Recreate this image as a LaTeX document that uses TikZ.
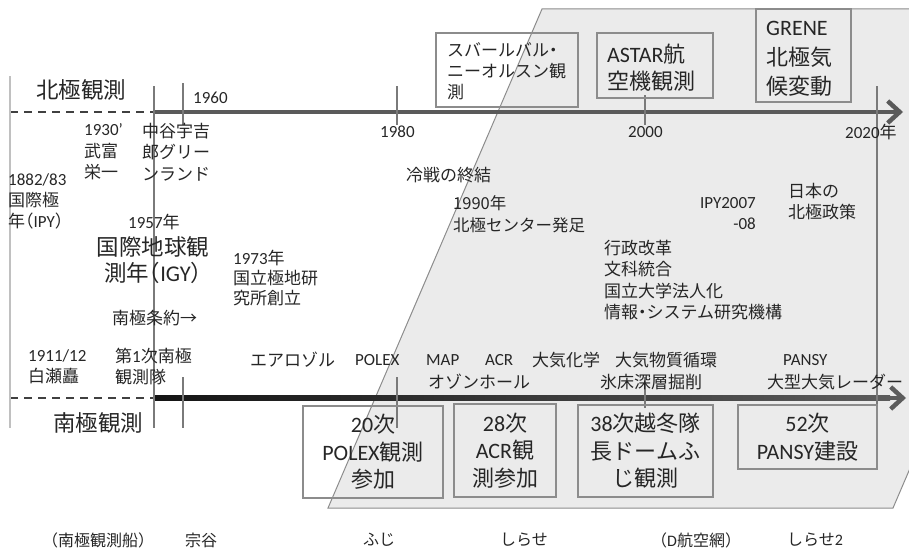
\documentclass[tikz,border=0pt]{standalone}
\usepackage{fontspec}
\setmainfont{Noto Sans CJK JP}[RawFeature=+halt]
\newfontfamily\la{Carlito}
\usetikzlibrary{arrows.meta}
\definecolor{shapefill}{HTML}{EBEBEB}
\definecolor{shapeline}{HTML}{8C8C8C}
\definecolor{axistop}{HTML}{5A5A5A}
\definecolor{dashc}{HTML}{404040}
\definecolor{lgray}{HTML}{C0C0C0}
\definecolor{tickc}{HTML}{7A7A7A}
\definecolor{boxline}{HTML}{8C8C8C}
\definecolor{textc}{HTML}{262626}
\begin{document}
\begin{tikzpicture}[x=1pt,y=-1pt,
  lbl/.style={inner sep=0pt, anchor=west, align=left, text=textc, font=\fontsize{17}{21}\selectfont},
  big/.style={lbl, font=\fontsize{22.5}{26}\selectfont},
  boxtxt/.style={inner sep=0pt, align=center, text=textc, font=\fontsize{22}{27.5}\selectfont},
  foot/.style={lbl, font=\fontsize{16}{20}\selectfont},
  framebox/.style={draw=boxline, line width=1.3pt, inner sep=0pt},
  tickl/.style={draw=tickc, line width=2pt},
  axisl/.style={line width=4.5pt, draw=axistop},
  dashl/.style={draw=dashc, line width=2.2pt, dash pattern=on 8pt off 6pt},
  barb/.style={-{Straight Barb[length=12pt,width=22pt]}},
]
\useasboundingbox (0,0) rectangle (909,551);
% grey parallelogram
\begin{scope}
\clip (0,0) rectangle (909,551);
\filldraw[fill=shapefill, draw=shapeline, line width=1pt] (542,9) -- (1107,9) -- (893,508) -- (328,508) -- cycle;
\end{scope}

% north axis
\coordinate (nS) at (10,112);
\coordinate (nM) at (154,112);
\coordinate (nE) at (903,112);
\draw[dashl] (nS) -- (nM);
\draw[axisl, barb] (nM) -- (nE);

% south axis
\coordinate (sS) at (10,398);
\coordinate (sM) at (154,398);
\coordinate (sA) at (886,398);
\coordinate (sE) at (906,398);
\draw[dashl] (sS) -- (sM);
\shade[left color=black!92, right color=black!64] (154,395.75) rectangle (890,400.25);
\draw[line width=4.5pt, draw=black!64, barb] (sA) -- (sE);

% vertical lines and ticks
\draw[line width=2.5pt, draw=lgray] (10,76) -- (10,428);
\draw[tickl] (154,86) -- (154,428);
\draw[tickl] (183,83) -- (183,125);
\draw[tickl] (183,377) -- (183,428);
\draw[tickl] (397,86) -- (397,125);
\draw[tickl] (397,377) -- (397,428);
\draw[tickl] (645,95) -- (645,125);
\draw[tickl] (645,377) -- (645,408);
\draw[tickl] (877,86) -- (877,428);

% boxes
\node[framebox, minimum width=142pt, minimum height=74pt] (bSval) at (507,70) {};
\node[framebox, minimum width=116pt, minimum height=65pt] (bAstar) at (655,65.5) {};
\node[framebox, minimum width=95pt, minimum height=93pt] (bGrene) at (803.5,55.5) {};
\node[framebox, minimum width=140pt, minimum height=92pt] (bPolex) at (373,452) {};
\node[framebox, minimum width=102pt, minimum height=93pt] (bAcr) at (505,450.5) {};
\node[framebox, minimum width=135pt, minimum height=92pt] (bDome) at (645.5,451) {};
\node[framebox, minimum width=139pt, minimum height=64pt] (bPansy) at (807.5,437) {};

% box texts
\node[lbl] (tSval) at (447,71) {スバールバル・\\ニーオルスン観\\測};
\node[lbl, font=\fontsize{22}{27}\selectfont] (tAstar) at (607,67.5) {{\la ASTAR}航\\空機観測};
\node[lbl, font=\fontsize{22}{29.5}\selectfont] (tGrene) at (766,59) {{\la GRENE}\\北極気\\候変動};
\node[boxtxt] (tPolex) at (bPolex.center) {{\la 20}次\\{\la POLEX}観測\\参加};
\node[boxtxt] (tAcr) at (bAcr.center) {{\la 28}次\\{\la ACR}観\\測参加};
\node[boxtxt] (tDome) at (bDome.center) {{\la 38}次越冬隊\\長ドームふ\\じ観測};
\node[boxtxt] (tPansy) at (bPansy.center) {{\la 52}次\\{\la PANSY}建設};

% headings
\node[big] (hN) at (36,90) {北極観測};
\node[big] (hS) at (53,423) {南極観測};

% years on axis
\node[lbl] (y1960) at (193,98) {{\la 1960}};
\node[lbl] (y1980) at (380,132) {{\la 1980}};
\node[lbl] (y2000) at (628,132) {{\la 2000}};
\node[lbl] (y2020) at (845,132) {{\la 2020}年};

% arctic side texts
\node[lbl, font=\fontsize{17}{21.5}\selectfont] (tTake) at (84,152) {{\la 1930’}\\武富\\栄一};
\node[lbl, font=\fontsize{17}{21.5}\selectfont] (tNaka) at (142,152) {中谷宇吉\\郎グリー\\ンランド};
\node[lbl] (tIPY) at (8,201) {{\la 1882/83}\\国際極\\年（{\la IPY}）};
\node[lbl] (t1957) at (128,222) {{\la 1957}年};
\node[big, anchor=center, align=center] (tIGY) at (153,260) {国際地球観\\測年（{\la IGY}）};
\node[lbl, font=\fontsize{17}{20}\selectfont] (tNIPR) at (233,278) {{\la 1973}年\\国立極地研\\究所創立};
\node[lbl] (tTreaty) at (112,318) {南極条約→};
\node[lbl] (tCold) at (406,175) {冷戦の終結};
\node[lbl, font=\fontsize{16.5}{22}\selectfont] (tCenter) at (453,214) {1990年\\北極センター発足};
\node[lbl, anchor=east, align=right] (tIPY07) at (756,214) {{\la IPY2007}\\{\la -08}};
\node[lbl] (tPolicy) at (788,202) {日本の\\北極政策};
\node[lbl, font=\fontsize{17}{21.3}\selectfont] (tReform) at (604,280) {行政改革\\文科統合\\国立大学法人化\\情報・システム研究機構};

% antarctic side texts
\node[lbl] (tShirase) at (28,367) {{\la 1911/12}\\白瀬矗};
\node[lbl] (tJare1) at (115,367) {第{\la 1}次南極\\観測隊};
\node[lbl] (tAero) at (250,360) {エアロゾル};
\node[lbl] (tPOLEX) at (355,360) {{\la POLEX}};
\node[lbl] (tMAP) at (426,360) {{\la MAP}};
\node[lbl] (tACR) at (485,360) {{\la ACR}};
\node[lbl] (tChem) at (532,360) {大気化学};
\node[lbl] (tCycle) at (615,360) {大気物質循環};
\node[lbl] (tPANSY) at (783,360) {{\la PANSY}};
\node[lbl] (tOzone) at (428,382) {オゾンホール};
\node[lbl] (tIce) at (600,382) {氷床深層掘削};
\node[lbl] (tRadar) at (767,382) {大型大気レーダー};

% ships
\node[foot] (fShip) at (50,540) {（南極観測船）};
\node[foot] (fSoya) at (185,540) {宗谷};
\node[foot] (fFuji) at (363,540) {ふじ};
\node[foot] (fShirase) at (500,540) {しらせ};
\node[foot] (fAir) at (659,540) {（{\la D}航空網）};
\node[foot] (fShirase2) at (787,540) {しらせ{\la 2}};
\end{tikzpicture}
\end{document}
